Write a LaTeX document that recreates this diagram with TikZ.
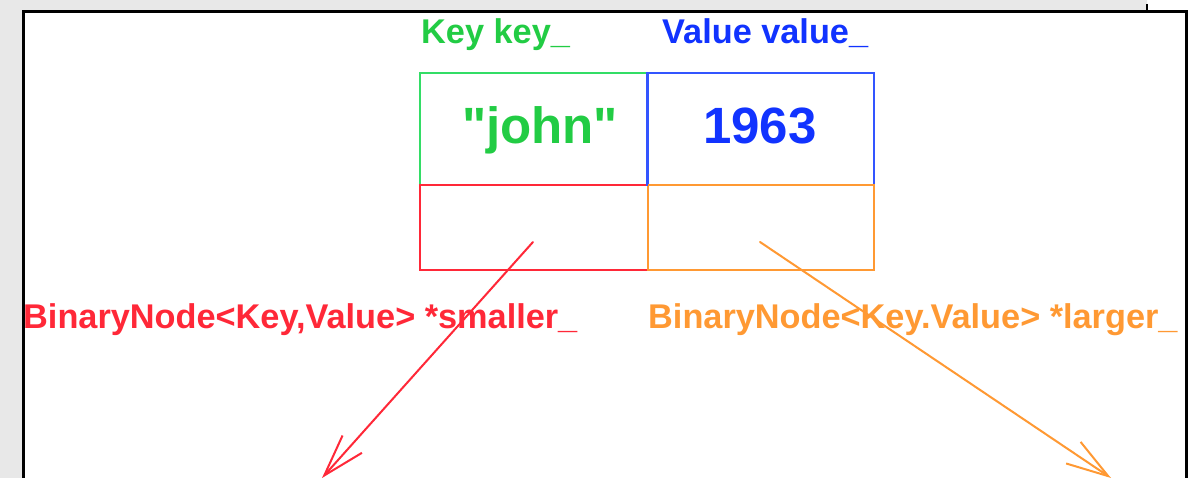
\documentclass[tikz,border=0pt]{standalone}
\usepackage{fontspec}
\setmainfont{Liberation Sans}
\newfontfamily\plainsans{Liberation Sans}
\usetikzlibrary{arrows.meta}
\definecolor{bggrey}{HTML}{E8E8E8}
\definecolor{kgreen}{HTML}{22CC44}
\definecolor{kgreenl}{HTML}{33DD66}
\definecolor{vblue}{HTML}{1133FF}
\definecolor{vbluel}{HTML}{3355FF}
\definecolor{sred}{HTML}{FF2838}
\definecolor{lorange}{HTML}{FF9933}
\tikzset{
  lbl/.style={inner sep=0pt, anchor=base west, font=\fontsize{34.3}{40}\selectfont\bfseries},
  big/.style={inner sep=0pt, anchor=base, font=\plainsans\fontsize{51}{60}\selectfont\bfseries},
  cell/.style={draw, line width=2pt, inner sep=0pt, anchor=north west},
  ptr/.style={line width=2pt, line cap=round, -{Straight Barb[length=42pt,width=26pt,line width=2pt]}}
}
\begin{document}
\begin{tikzpicture}[x=1pt,y=-1pt]
\useasboundingbox (0,0) rectangle (1200,478);
\fill[white] (0,0) rectangle (1200,478);
\fill[bggrey] (0,0) -- (1147,0) -- (1147,11) -- (22,11) -- (22,478) -- (0,478) -- cycle;
\draw[line width=3pt] (23.5,478) -- (23.5,11.5) -- (1186,11.5) -- (1186,478);
\draw[line width=2pt] (1147,4) -- (1147,11);
% cells
\node[cell, draw=kgreenl, minimum width=228pt, minimum height=112pt] (keycell) at (419,72) {};
\node[cell, draw=vbluel, minimum width=226pt, minimum height=112pt] (valcell) at (647,72) {};
\node[cell, draw=sred, minimum width=228pt, minimum height=85pt] (smcell) at (419,184) {};
\node[cell, draw=lorange, minimum width=226pt, minimum height=85pt] (lgcell) at (647,184) {};
\draw[vbluel, line width=2pt] (valcell.north west) -- (valcell.south west);
% texts
\node[lbl, text=kgreen] (keylbl) at (421,43.5) {Key key\_};
\node[lbl, text=vblue] (vallbl) at (662,43.5) {Value value\_};
\node[big, text=kgreen] (john) at (540,144) {"john"};
\node[big, text=vblue] (year) at (760,144) {1963};
\node[lbl, text=sred] (smlbl) at (23,329) {BinaryNode<Key,Value> *smaller\_};
\node[lbl, text=lorange] (lglbl) at (648,329) {BinaryNode<Key.Value> *larger\_};
% pointers
\coordinate (smstart) at (533,242);
\coordinate (smend) at (322,478);
\coordinate (lgstart) at (760,242);
\coordinate (lgend) at (1111,478);
\draw[ptr, sred] (smstart) -- (smend);
\draw[ptr, lorange] (lgstart) -- (lgend);
\end{tikzpicture}
\end{document}
